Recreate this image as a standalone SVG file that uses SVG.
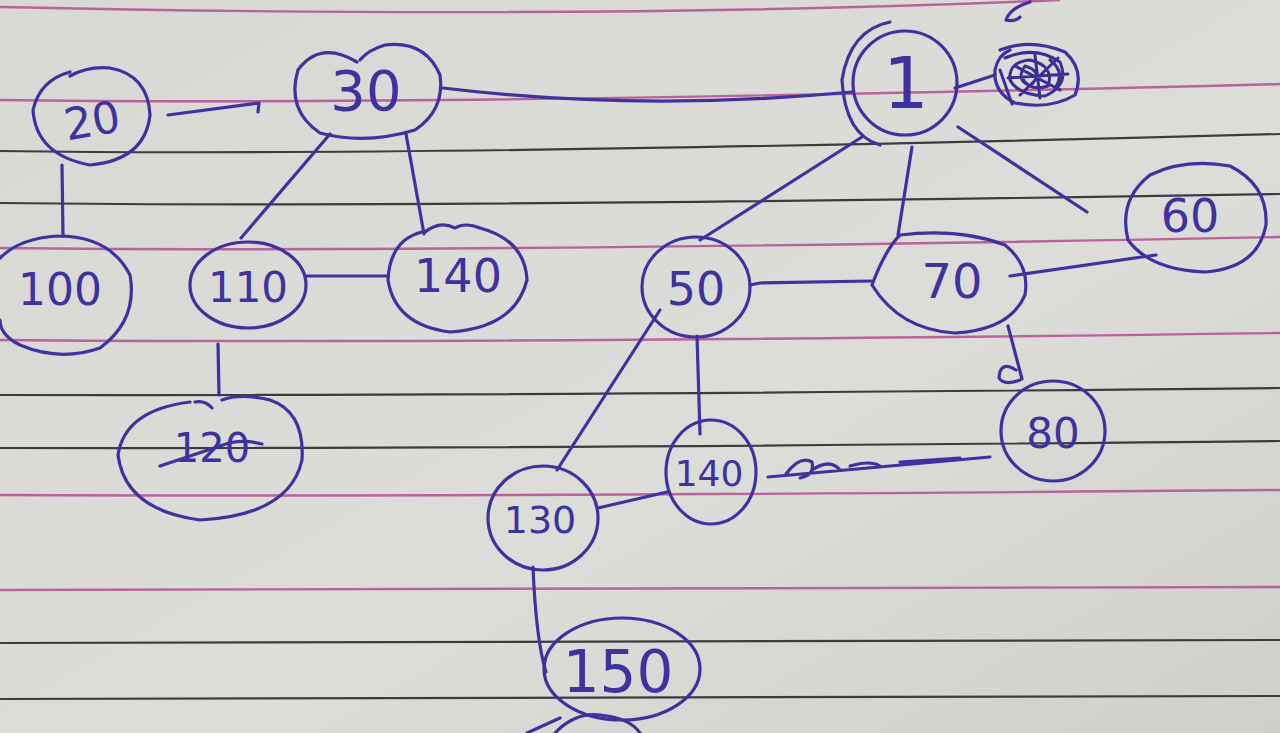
<svg xmlns="http://www.w3.org/2000/svg" width="1280" height="733" viewBox="0 0 1280 733">
<defs>
<linearGradient id="paper" x1="0" y1="0" x2="1" y2="1">
<stop offset="0" stop-color="#d8d8d5"/>
<stop offset="0.6" stop-color="#dcdcd9"/>
<stop offset="1" stop-color="#cfcfcc"/>
</linearGradient>
<style>
.pink{fill:none;stroke:#b8639a;stroke-width:2.4}
.blk{fill:none;stroke:#3c3c40;stroke-width:2.2}
.ink{fill:none;stroke:#3e31a0;stroke-width:3.2;stroke-linecap:round;stroke-linejoin:round}
.thin{fill:none;stroke:#3a2e96;stroke-width:3;stroke-linecap:round}
.lbl{font-family:"DejaVu Sans","Liberation Sans",sans-serif;fill:#3e31a0;text-anchor:middle;font-weight:normal}
</style>
</defs>
<rect width="1280" height="733" fill="url(#paper)"/>
<g id="ruling">
<path class="pink" d="M0,7 Q600,20 1060,0"/>
<path class="pink" d="M0,100 Q420,106 1280,84"/>
<path class="blk" d="M0,151 Q420,157 1280,134"/>
<path class="blk" d="M0,203 Q420,208 1280,194"/>
<path class="pink" d="M0,248 Q450,253 1280,237"/>
<path class="pink" d="M0,340 Q450,344 1280,333"/>
<path class="blk" d="M0,395 Q500,396 1280,388"/>
<path class="blk" d="M0,448 Q500,449 1280,441"/>
<path class="pink" d="M0,495 Q500,497 1280,490"/>
<path class="pink" d="M0,590 Q600,591 1280,587"/>
<path class="blk" d="M0,643 Q600,644 1280,640"/>
<path class="blk" d="M0,699 Q600,700 1280,696"/>
</g>
<g id="connectors">
<path class="ink" d="M168,115 L259,103 L258,112"/>
<path class="ink" d="M62,165 L63,236"/>
<path class="ink" d="M330,134 L241,238"/>
<path class="ink" d="M406,134 L424,234"/>
<path class="ink" d="M443,88 Q640,112 852,92"/>
<path class="ink" d="M955,88 L995,75"/>
<path class="ink" d="M862,137 L700,240"/>
<path class="ink" d="M912,147 L898,235"/>
<path class="ink" d="M958,127 L1087,212"/>
<path class="ink" d="M306,276 L388,276"/>
<path class="ink" d="M218,344 L219,395"/>
<path class="ink" d="M750,285 L760,283 L872,281"/>
<path class="ink" d="M1010,276 L1156,255"/>
<path class="ink" d="M1008,326 L1022,379 M1016,370 Q1000,360 999,378 Q1004,386 1020,380"/>
<path class="ink" d="M660,310 L557,470"/>
<path class="ink" d="M697,336 L700,434"/>
<path class="ink" d="M598,508 L667,492"/>
<path class="ink" d="M533,567 Q536,640 546,672"/>
<path class="ink" d="M768,477 L990,457 M786,474 Q800,455 812,462 Q815,475 800,478 M812,470 Q830,458 840,470 M850,466 Q870,460 880,466 M900,462 L960,458"/>
<path class="ink" d="M527,733 L560,718"/>
</g>
<g id="n20">
<path class="ink" d="M70,72 Q40,80 33,110 Q36,155 90,165 Q145,160 150,115 Q148,75 110,68 Q88,66 70,76"/>
<text class="lbl" x="92" y="136" font-size="44" transform="rotate(-10 92 120)">20</text>
</g>
<g id="n30">
<path class="ink" d="M357,62 Q320,40 298,70 Q286,110 320,133 Q365,145 415,130 Q445,110 440,75 Q425,40 385,45 Q368,50 360,60"/>
<text class="lbl" x="366" y="110" font-size="56">30</text>
</g>
<g id="n1">
<circle class="ink" cx="905" cy="83" r="52"/>
<path class="ink" d="M890,22 Q850,30 842,80 Q845,135 880,145"/>
<text class="lbl" x="906" y="108" font-size="72">1</text>
</g>
<g id="nx">
<path class="ink" d="M1000,50 Q1030,38 1065,52 Q1085,70 1075,95 Q1050,110 1015,103 Q993,92 995,70 Q998,55 1010,50"/>
<path class="thin" d="M1005,58 Q1035,45 1060,62 Q1070,85 1045,96 Q1018,95 1010,80 Q1008,62 1030,60 Q1055,66 1048,86 Q1030,92 1022,78 M1015,66 L1060,90 M1020,95 L1058,58 M1000,70 L1012,104 M1035,55 L1040,98 M1008,78 L1068,74 M1025,66 Q1045,72 1030,86 Q1015,80 1025,66 M1050,60 Q1066,72 1055,88"/>
<path class="ink" d="M1006,20 Q1010,8 1030,2 M1006,20 Q1015,22 1020,17"/>
</g>
<g id="n100">
<path class="ink" d="M58,236 Q110,236 130,275 Q138,320 100,348 Q60,362 20,345 Q0,335 0,320 M0,258 Q20,238 58,236"/>
<text class="lbl" x="60" y="305" font-size="44">100</text>
</g>
<g id="n110">
<ellipse class="ink" cx="248" cy="285" rx="58" ry="43"/>
<text class="lbl" x="248" y="302" font-size="42">110</text>
</g>
<g id="n140a">
<path class="ink" d="M422,232 Q390,240 388,280 Q395,325 450,332 Q515,328 527,280 Q525,240 480,228 Q465,222 455,228 Q440,220 425,232"/>
<text class="lbl" x="458" y="292" font-size="46">140</text>
</g>
<g id="n120">
<path class="ink" d="M190,402 Q125,410 118,455 Q125,510 200,520 Q290,515 302,460 Q305,412 270,400 Q240,393 222,400 M195,402 Q205,400 212,408"/>
<text class="lbl" x="212" y="462" font-size="40">120</text>
<path class="ink" d="M160,466 L220,446 Q240,438 262,444"/>
</g>
<g id="n50">
<ellipse class="ink" cx="696" cy="287" rx="54" ry="50"/>
<text class="lbl" x="696" y="305" font-size="46">50</text>
</g>
<g id="n70">
<path class="ink" d="M900,235 Q960,228 1005,245 Q1030,265 1025,295 Q1010,330 955,333 Q900,330 872,285 Q885,250 900,235"/>
<text class="lbl" x="952" y="298" font-size="48">70</text>
</g>
<g id="n60">
<path class="ink" d="M1150,175 Q1185,158 1230,166 Q1268,185 1266,225 Q1258,268 1205,272 Q1150,270 1128,240 Q1118,200 1150,175"/>
<text class="lbl" x="1190" y="232" font-size="46">60</text>
</g>
<g id="n80">
<ellipse class="ink" cx="1053" cy="431" rx="52" ry="50"/>
<text class="lbl" x="1053" y="448" font-size="42">80</text>
</g>
<g id="n140b">
<ellipse class="ink" cx="711" cy="472" rx="45" ry="52"/>
<text class="lbl" x="709" y="486" font-size="36">140</text>
</g>
<g id="n130">
<ellipse class="ink" cx="543" cy="518" rx="55" ry="52"/>
<text class="lbl" x="540" y="533" font-size="38">130</text>
</g>
<g id="n150">
<ellipse class="ink" cx="622" cy="669" rx="78" ry="51"/>
<text class="lbl" x="618" y="692" font-size="58">150</text>
</g>
<g id="npart">
<path class="ink" d="M555,733 Q575,712 600,715 Q630,718 640,733"/>
</g>
</svg>
